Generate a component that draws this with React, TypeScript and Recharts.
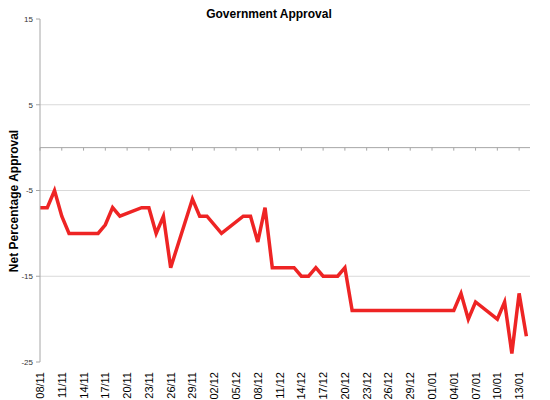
import { LineChart, Line, XAxis, YAxis, ReferenceLine } from 'recharts';

// days counted from 08/11 (day 0) to 14/01 (day 67)
const pollDays = [0, 1, 2, 3, 4, 8, 9, 10, 11, 14, 15, 16, 17, 18, 21, 22, 23, 25, 28, 29, 30, 31, 32, 35, 36, 37, 38, 39, 41, 42, 43, 57, 58, 59, 60, 63, 64, 65, 66, 67];
const netApproval = [-7, -7, -5, -8, -10, -10, -9, -7, -8, -7, -7, -10, -8, -14, -6, -8, -8, -10, -8, -8, -11, -7, -14, -14, -15, -15, -14, -15, -15, -14, -19, -19, -17, -20, -18, -20, -18, -24, -17, -22];

const tickLabels = ['08/11', '11/11', '14/11', '17/11', '20/11', '23/11', '26/11', '29/11', '02/12', '05/12', '08/12', '11/12', '14/12', '17/12', '20/12', '23/12', '26/12', '29/12', '01/01', '04/01', '07/01', '10/01', '13/01'];
const tickDays = tickLabels.map((_, i) => i * 3);
const yTicks = [-25, -15, -5, 5, 15];
const gridValues = [5, -5, -15];

const data = pollDays.map((day, i) => ({ day, approval: netApproval[i] }));

const FONT = '"Liberation Sans", Arial, sans-serif';

const DateTick = ({ x, y, payload }: any) => (
  <text
    x={x}
    y={y}
    transform={`rotate(-90 ${x} ${y})`}
    textAnchor="end"
    dominantBaseline="central"
    fontSize={11}
    fontFamily={FONT}
    fill="#000"
  >
    {tickLabels[payload.index] ?? ''}
  </text>
);

const YTitle = ({ viewBox }: any) => {
  const cx = 14;
  const cy = 201;
  return (
    <text
      x={cx}
      y={cy}
      transform={`rotate(-90 ${cx} ${cy})`}
      textAnchor="middle"
      dominantBaseline="central"
      fontSize={12}
      fontWeight="bold"
      fontFamily={FONT}
      fill="#000"
    >
      Net Percentage Approval
    </text>
  );
};

const App = () => {
  return (
    <div style={{ position: 'absolute', left: 0, top: 0, width: 550, height: 400, background: '#fff', fontFamily: FONT }}>
      <div style={{ position: 'absolute', left: 0, top: 7, width: 538, textAlign: 'center', fontSize: 12, fontWeight: 'bold', color: '#000' }}>
        Government Approval
      </div>
      <LineChart width={550} height={400} data={data} margin={{ top: 19, right: 20, bottom: 0, left: 0 }}>
        {gridValues.map(v => (
          <ReferenceLine key={v} y={v} stroke="#d9d9d9" strokeWidth={1} />
        ))}
        <ReferenceLine y={0} stroke="#a6a6a6" strokeWidth={1} />
        {tickDays.map(d => (
          <ReferenceLine key={`t${d}`} segment={[{ x: d, y: 0 }, { x: d, y: -0.35 }]} stroke="#a6a6a6" />
        ))}
        <XAxis
          type="number"
          dataKey="day"
          domain={[0, 67.5]}
          ticks={tickDays}
          interval={0}
          axisLine={false}
          tickLine={false}
          tickSize={8}
          tickMargin={2}
          height={38}
          tick={<DateTick />}
        />
        <YAxis
          type="number"
          domain={[-25, 15]}
          ticks={yTicks}
          interval={0}
          width={40}
          axisLine={{ stroke: '#a6a6a6' }}
          tickLine={{ stroke: '#a6a6a6' }}
          tickSize={4}
          tickMargin={3}
          tick={{ fontSize: 8, fill: '#333', fontFamily: FONT }}
          label={<YTitle />}
        />
        <Line
          type="linear"
          dataKey="approval"
          stroke="#ee2424"
          strokeWidth={3.5}
          strokeLinejoin="miter"
          dot={false}
          activeDot={false}
          isAnimationActive={false}
        />
      </LineChart>
    </div>
  );
};

export default App;
